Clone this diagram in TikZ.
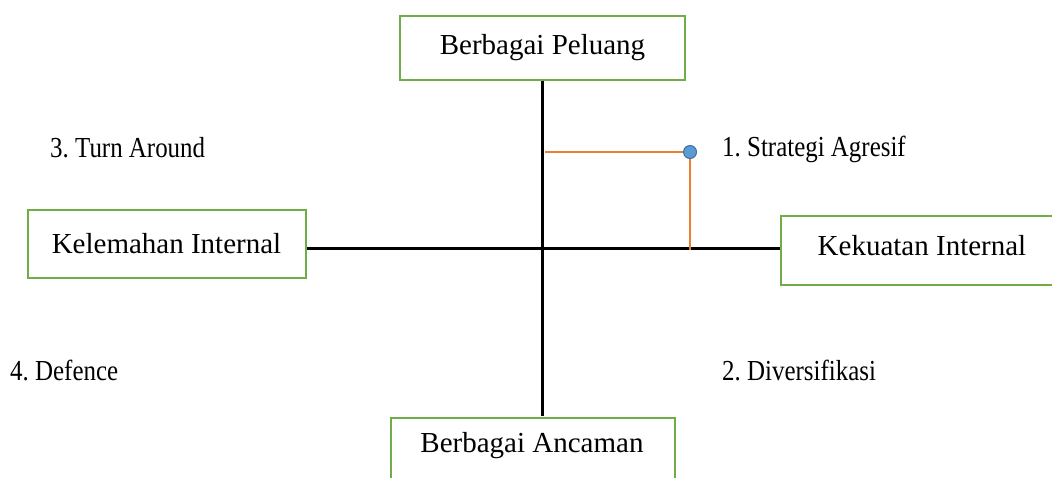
\documentclass[tikz,border=0pt]{standalone}
\usepackage{fontspec}
\setmainfont{Liberation Serif}
\newfontfamily\condfont[FakeStretch=0.86]{Liberation Serif}
\definecolor{boxgreen}{RGB}{112,173,71}
\definecolor{lineorange}{RGB}{237,125,49}
\definecolor{dotblue}{RGB}{91,155,213}
\definecolor{dotedge}{RGB}{65,113,156}
\begin{document}
\begin{tikzpicture}[x=1pt,y=-1pt,
  boxnode/.style={draw=boxgreen,line width=2pt,fill=white,font=\fontsize{29}{34}\selectfont,inner sep=0pt},
  boxtext/.style={font=\fontsize{29}{34}\selectfont,inner sep=0pt},
  lbl/.style={font=\condfont\fontsize{29}{34}\selectfont,anchor=west,inner sep=0pt},
  axis/.style={line width=3pt,black},
  orange/.style={line width=2pt,lineorange}]
\useasboundingbox (0,0) rectangle (1052,477);
\coordinate (C) at (542,248);
% boxes
\node[boxnode,minimum width=285pt,minimum height=64pt] (top) at (542.5,47.5) {Berbagai Peluang};
\node[boxnode,minimum width=278pt,minimum height=68pt] (left) at (166.5,244) {Kelemahan Internal};
\node[boxnode,minimum width=300pt,minimum height=69pt,anchor=north west] (right) at (780,215) {};
\node[boxtext] (righttext) at (922,246) {Kekuatan Internal};
\node[boxnode,minimum width=284pt,minimum height=80pt,anchor=north west] (bottom) at (390,417) {};
\node[boxtext] (bottomtext) at (532,446) {Berbagai Ancaman};
% axes
\coordinate (vbot) at (542,416);
\draw[axis] (top.south -| C) -- (vbot);
\draw[axis] (left.east |- C) -- (right.west |- C);
% orange
\coordinate (p) at (690,152);
\coordinate (pl) at (545,152);
\coordinate (pb) at (690,250);
\draw[orange] (pl) -- (p) -- (pb);
\node[circle,fill=dotblue,draw=dotedge,line width=1pt,minimum size=13pt,inner sep=0pt] (dot) at (p) {};
% labels
\node[lbl] (l3) at (50,148) {3.~Turn Around};
\node[lbl] (l1) at (722,149) {1.~Strategi Agresif};
\node[lbl] (l4) at (10,370) {4.~Defence};
\node[lbl] (l2) at (722,370) {2.~Diversifikasi};
\end{tikzpicture}
\end{document}
